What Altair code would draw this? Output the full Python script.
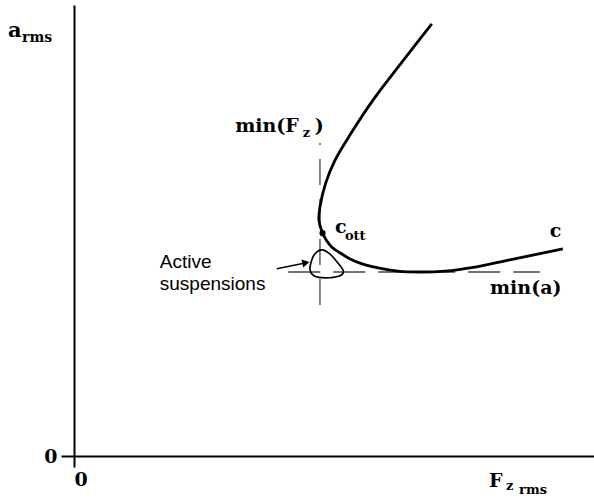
import altair as alt
import pandas as pd

# ---- data (arbitrary units, axes run 0..100) ----
curve_x = [68.8, 63.1, 57.5, 53.3, 50.2, 48.4, 47.3, 47.1, 47.7, 48.5, 49.6, 51.2, 53.1, 55.4,
           58.5, 62.3, 66.5, 71.3, 77.1, 83.8, 94.0]
curve_y = [95.8, 87.4, 78.9, 71.6, 65.6, 60.5, 55.2, 52.3, 49.7, 47.9, 46.3, 45.0, 43.7, 42.6,
           41.7, 41.0, 40.8, 41.0, 41.9, 43.5, 45.9]
loop_x = [47.7, 49.2, 50.6, 51.8, 51.0, 48.3, 46.2, 45.4, 45.6, 46.3]
loop_y = [45.7, 44.8, 43.0, 41.0, 39.9, 39.5, 39.9, 41.2, 43.0, 44.8]
c_opt = (47.8, 49.4)
min_fz_x = 47.3
min_fz_span = (33.5, 69.4)
min_a_y = 40.8
min_a_span = (41.2, 89.6)
arrow_x = [39.0, 44.2]
arrow_y = [41.5, 42.75]
arrow_head = (44.6, 42.85)

# serif labels: text, x, y, font size
serif_text = ["min(F", "z", ")", "c", "ott", "c", "min(a)", "a", "rms", "F", "z", "rms"]
serif_x = [31.0, 44.0, 46.3, 50.2, 52.1, 91.5, 80.0, -12.7, -10.0, 79.8, 83.1, 85.6]
serif_y = [71.8, 70.7, 71.8, 49.4, 47.9, 48.6, 35.9, 92.9, 91.8, -6.9, -7.5, -8.4]
serif_size = [19, 13, 19, 19, 13, 19, 19, 21, 14, 19, 13, 13]

sans_text = ["Active", "suspensions"]
sans_x = [16.5, 16.5]
sans_y = [41.6, 36.8]

X = alt.Scale(domain=[0, 100], nice=False, zero=False)
Y = alt.Scale(domain=[0, 100], nice=False, zero=False)

curve_df = pd.DataFrame({"x": curve_x, "y": curve_y, "i": range(len(curve_x))})
loop_df = pd.DataFrame({"x": loop_x, "y": loop_y, "i": range(len(loop_x))})

base_axes = alt.Chart(pd.DataFrame({"x": [0], "y": [0]})).mark_point(opacity=0).encode(
    x=alt.X("x:Q", scale=X, axis=alt.Axis(values=[0], title=None, grid=False, tickSize=11,
                                           tickWidth=2, domainWidth=2, domainColor="black",
                                           tickColor="black", labelFont="DejaVu Serif",
                                           labelFontWeight="bold", labelFontSize=19,
                                           labelColor="black", labelAlign="left",
                                           labelPadding=3)),
    y=alt.Y("y:Q", scale=Y, axis=alt.Axis(values=[0], title=None, grid=False, tickSize=13,
                                           tickWidth=2, domainWidth=2, domainColor="black",
                                           tickColor="black", labelFont="DejaVu Serif",
                                           labelFontWeight="bold", labelFontSize=19,
                                           labelColor="black", labelPadding=4)),
)

curve = alt.Chart(curve_df).mark_line(color="black", strokeWidth=2.8, interpolate="catmull-rom").encode(
    x=alt.X("x:Q", scale=X), y=alt.Y("y:Q", scale=Y), order="i:Q")

loop = alt.Chart(loop_df).mark_line(color="black", strokeWidth=1.7, interpolate="cardinal-closed").encode(
    x=alt.X("x:Q", scale=X), y=alt.Y("y:Q", scale=Y), order="i:Q")

dot = alt.Chart(pd.DataFrame({"x": [c_opt[0]], "y": [c_opt[1]]})).mark_circle(
    color="black", size=38, opacity=1).encode(x=alt.X("x:Q", scale=X), y=alt.Y("y:Q", scale=Y))

vrule = alt.Chart(pd.DataFrame({"x": [min_fz_x], "y": [min_fz_span[0]], "y2": [min_fz_span[1]]})).mark_rule(
    color="#444", strokeWidth=1.3, strokeDash=[26, 14]).encode(
    x=alt.X("x:Q", scale=X), y=alt.Y("y:Q", scale=Y), y2="y2:Q")

hrule = alt.Chart(pd.DataFrame({"y": [min_a_y], "x": [min_a_span[0]], "x2": [min_a_span[1]]})).mark_rule(
    color="#444", strokeWidth=1.3, strokeDash=[32, 13]).encode(
    y=alt.Y("y:Q", scale=Y), x=alt.X("x:Q", scale=X), x2="x2:Q")

arrow_line = alt.Chart(pd.DataFrame({"x": arrow_x, "y": arrow_y, "i": [0, 1]})).mark_line(
    color="black", strokeWidth=1.5).encode(x=alt.X("x:Q", scale=X), y=alt.Y("y:Q", scale=Y), order="i:Q")

arrow_tip = alt.Chart(pd.DataFrame({"x": [arrow_head[0]], "y": [arrow_head[1]]})).mark_point(
    shape="triangle-right", filled=True, color="black", size=70, angle=348, opacity=1).encode(
    x=alt.X("x:Q", scale=X), y=alt.Y("y:Q", scale=Y))

serif_df = pd.DataFrame({"t": serif_text, "x": serif_x, "y": serif_y, "s": serif_size})
serif = alt.Chart(serif_df).mark_text(font="DejaVu Serif", fontWeight="bold", align="left",
                                      baseline="alphabetic", color="black").encode(
    x=alt.X("x:Q", scale=X), y=alt.Y("y:Q", scale=Y), text="t:N", size=alt.Size("s:Q", scale=None))

sans_df = pd.DataFrame({"t": sans_text, "x": sans_x, "y": sans_y})
sans = alt.Chart(sans_df).mark_text(font="Liberation Sans", fontSize=19, align="left",
                                    baseline="alphabetic", color="black").encode(
    x=alt.X("x:Q", scale=X), y=alt.Y("y:Q", scale=Y), text="t:N")

chart = alt.layer(base_axes, vrule, hrule, curve, loop, dot, arrow_line, arrow_tip, serif, sans).properties(
    width=520, height=451,
    padding={"left": 74, "top": 5, "right": 0, "bottom": 42},
    autosize=alt.AutoSizeParams(type="none"),
    background="white",
).configure_view(stroke=None)

chart.save("out.html", embed_options={"renderer": "svg", "actions": False})
